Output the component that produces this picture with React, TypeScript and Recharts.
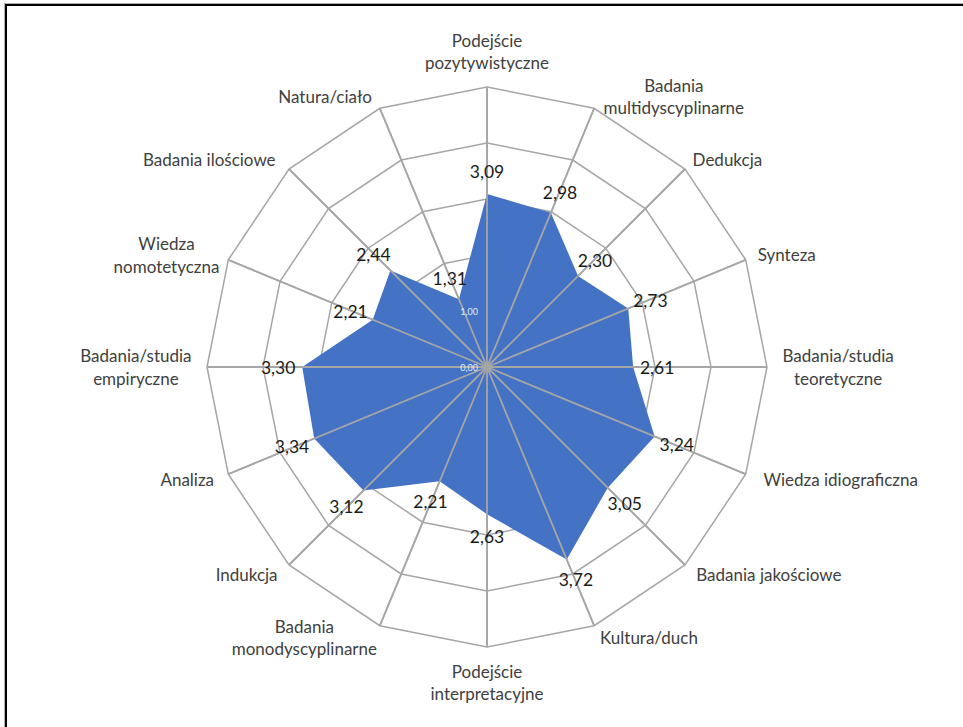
import React from "react";
import { RadarChart, Radar, PolarGrid, PolarAngleAxis, PolarRadiusAxis } from "recharts";

const categories = [
  "Podejście\npozytywistyczne",
  "Badania\nmultidyscyplinarne",
  "Dedukcja",
  "Synteza",
  "Badania/studia\nteoretyczne",
  "Wiedza idiograficzna",
  "Badania jakościowe",
  "Kultura/duch",
  "Podejście\ninterpretacyjne",
  "Badania\nmonodyscyplinarne",
  "Indukcja",
  "Analiza",
  "Badania/studia\nempiryczne",
  "Wiedza\nnomotetyczna",
  "Badania ilościowe",
  "Natura/ciało",
];

const values = [3.09, 2.98, 2.3, 2.73, 2.61, 3.24, 3.05, 3.72, 2.63, 2.21, 3.12, 3.34, 3.3, 2.21, 2.44, 1.31];

const radiusTicks = [0, 1, 2, 3, 4, 5];
const visibleRadiusTicks = [0, 1];

const data = categories.map((c, i) => ({ category: c, value: values[i] }));

const W = 963;
const H = 727;
const CX = 487;
const CY = 367;
const R = 280;
const FONT = "Lato, 'Open Sans', sans-serif";
const GRID = "#a6a6a6";

const fmt = (v: number) => v.toFixed(2).replace(".", ",");

function AngleTick(props: any) {
  const { payload, index } = props;
  const n = categories.length;
  const angle = 90 - (index * 360) / n;
  const rad = (angle * Math.PI) / 180;
  const ux = Math.cos(rad);
  const uy = -Math.sin(rad);
  const px = CX + (R + 13) * ux;
  const py = CY + (R + 13) * uy;
  const lines = String(payload.value).split("\n");
  const lh = 22.5;
  const h = lines.length * lh;
  const w = Math.max(...lines.map((l) => l.length)) * 8.3;
  let cx = px;
  if (ux > 0.05) cx = px + w / 2;
  else if (ux < -0.05) cx = px - w / 2;
  let cy = py;
  if (uy < -0.95) cy = py - h / 2;
  else if (uy > 0.95) cy = py + h / 2;
  return (
    <g>
      {lines.map((l, i) => (
        <text
          key={i}
          x={cx}
          y={cy - h / 2 + lh * (i + 0.5)}
          textAnchor="middle"
          dominantBaseline="central"
          fontFamily={FONT}
          fontSize={17}
          fill="#404040"
        >
          {l}
        </text>
      ))}
    </g>
  );
}

function RadiusTick(props: any) {
  const { x, y, payload } = props;
  if (!visibleRadiusTicks.includes(Number(payload.value))) return null;
  return (
    <text
      x={x - 9}
      y={y}
      textAnchor="end"
      dominantBaseline="central"
      fontFamily={FONT}
      fontSize={9}
      fill="#e3eaf6"
    >
      {fmt(Number(payload.value))}
    </text>
  );
}

function DataLabel(props: any) {
  const { x, y, value } = props;
  if (x == null || y == null) return null;
  const dx = x - CX;
  const dy = y - CY;
  const len = Math.sqrt(dx * dx + dy * dy) || 1;
  const lx = x + (dx / len) * 24;
  const ly = y + (dy / len) * 22;
  return (
    <text
      x={lx}
      y={ly}
      textAnchor="middle"
      dominantBaseline="central"
      fontFamily={FONT}
      fontSize={17.5}
      fill="#1a1a1a"
    >
      {fmt(Number(value))}
    </text>
  );
}

function RadarShape(props: any) {
  const pts: any[] = props.points || [];
  const poly = pts.map((p) => `${p.x},${p.y}`).join(" ");
  return (
    <g>
      <polygon points={poly} fill="#4472C4" stroke="none" />
      {pts.map((p, i) => {
        const a = ((p.angle ?? 90 - (i * 360) / pts.length) * Math.PI) / 180;
        const ox = (p.cx ?? CX) + R * Math.cos(a);
        const oy = (p.cy ?? CY) - R * Math.sin(a);
        return <line key={i} x1={p.cx ?? CX} y1={p.cy ?? CY} x2={ox} y2={oy} stroke={GRID} strokeWidth={1.8} />;
      })}
    </g>
  );
}

export default function App() {
  return (
    <div style={{ position: "absolute", left: 0, top: 0, width: W, height: H, overflow: "hidden", background: "#fff" }}>
      <div
        style={{
          position: "absolute",
          left: 5,
          top: 4,
          width: 2000,
          height: 2000,
          borderTop: "2px solid #000",
          borderLeft: "2px solid #000",
          boxShadow: "-1px -1px 0 #b0b0b0",
        }}
      />
      <div style={{ position: "absolute", left: 0, top: 0 }}>
        <RadarChart
          width={W}
          height={H}
          data={data}
          cx={CX}
          cy={CY}
          outerRadius={R}
          margin={{ top: 0, right: 0, bottom: 0, left: 0 }}
        >
          <PolarGrid gridType="polygon" radialLines={true} stroke={GRID} strokeWidth={1.5} />
          <PolarAngleAxis dataKey="category" tick={<AngleTick />} axisLine={false} tickLine={false} />
          <PolarRadiusAxis
            angle={90}
            domain={[0, 5]}
            ticks={radiusTicks as any}
            tickCount={6}
            axisLine={false}
            tick={<RadiusTick />}
          />
          <Radar
            dataKey="value"
            fill="#4472C4"
            fillOpacity={1}
            stroke="none"
            isAnimationActive={false}
            shape={<RadarShape />}
            label={<DataLabel />}
          />
        </RadarChart>
      </div>
    </div>
  );
}
